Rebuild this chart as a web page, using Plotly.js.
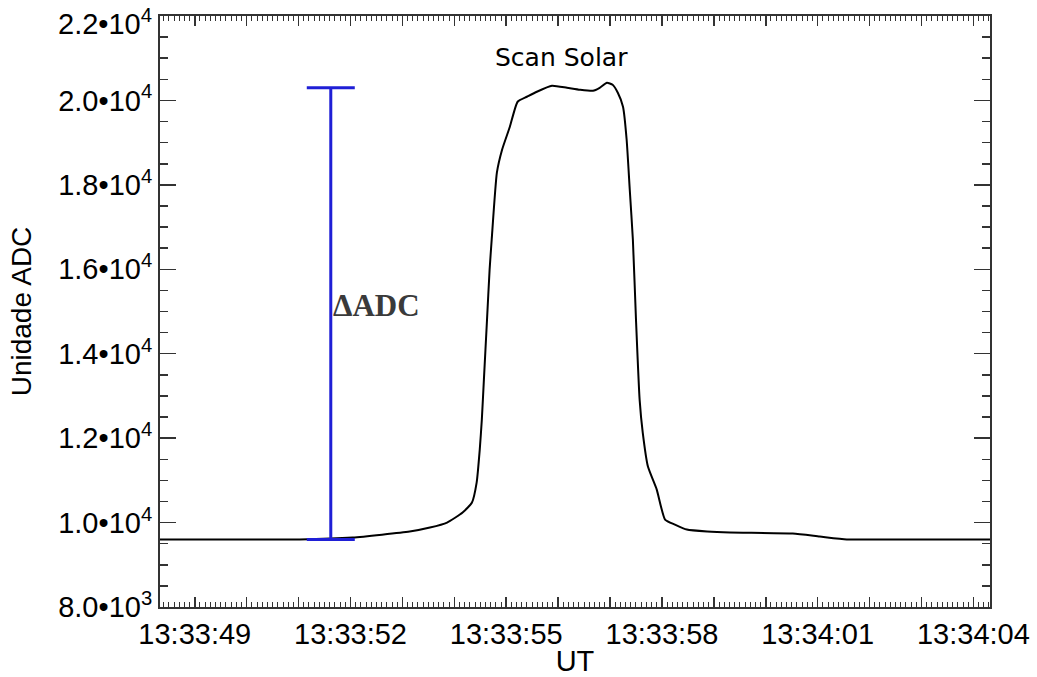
<!DOCTYPE html>
<html>
<head>
<meta charset="utf-8">
<script src="https://cdn.plot.ly/plotly-3.0.1.min.js"></script>
<style>
  html, body { margin: 0; padding: 0; background: #ffffff; }
  #chart { width: 1037px; height: 677px; }
</style>
</head>
<body>
<div id="chart"></div>
<script>
// Solar scan: ADC counts versus UT (seconds after 13:33:00)
const timeSec = [
  48.33, 49.5, 51.02, 52.04, 53.14, 53.53, 53.86, 54.16, 54.34, 54.43,
  54.49, 54.53, 54.57, 54.63, 54.68, 54.72, 54.82, 54.92, 55.07, 55.22,
  55.40, 55.59, 55.88, 56.17, 56.42, 56.67, 56.80, 56.94, 57.05, 57.15,
  57.25, 57.32, 57.38, 57.44, 57.50, 57.57, 57.63, 57.73, 57.90, 58.06,
  58.25, 58.48, 58.87, 59.31, 60.52, 61.04, 61.56, 62.20, 63.3, 64.32
];
const adcCounts = [
  9600, 9600, 9600, 9645, 9787, 9882, 10000, 10237, 10474, 10947,
  11729, 12439, 13386, 14807, 15991, 16701, 18288, 18832, 19377, 19969,
  20087, 20206, 20348, 20300, 20253, 20229, 20300, 20419, 20371, 20182,
  19850, 19069, 17885, 16701, 14807, 12913, 12131, 11326, 10781, 10071,
  9953, 9834, 9787, 9763, 9740, 9669, 9600, 9597, 9597, 9597
];

// Amplitude marker (ΔADC) between the quiet-sky baseline and the solar plateau
const deltaTime = 51.62;
const deltaLow = 9600;
const deltaHigh = 20300;

// Axis ticks
const xTickVals = [49, 50, 51, 52, 53, 54, 55, 56, 57, 58, 59, 60, 61, 62, 63, 64];
const xTickLabels = ['13:33:49', '', '', '13:33:52', '', '', '13:33:55', '', '',
                     '13:33:58', '', '', '13:34:01', '', '', '13:34:04'];
const yTickVals = [8000, 10000, 12000, 14000, 16000, 18000, 20000, 22000];
const yTickLabels = ['8.0•10<sup>3</sup>', '1.0•10<sup>4</sup>', '1.2•10<sup>4</sup>',
                     '1.4•10<sup>4</sup>', '1.6•10<sup>4</sup>', '1.8•10<sup>4</sup>',
                     '2.0•10<sup>4</sup>', '2.2•10<sup>4</sup>'];

const sansFont = 'Liberation Sans, Arial, Helvetica, sans-serif';
const axisColor = '#333333';
const yTop = yTickVals[yTickVals.length - 1];

// The label at the top of the y axis is nudged down so its exponent stays on the page
const yAxisText = yTickLabels.map((t, i) => (yTickVals[i] === yTop ? '' : t));
const topLabel = yTickLabels[yTickLabels.length - 1];

const traces = [
  {
    x: timeSec,
    y: adcCounts,
    type: 'scatter',
    mode: 'lines',
    line: { color: '#000000', width: 2, shape: 'spline', smoothing: 0.5 },
    hoverinfo: 'x+y'
  },
  {
    x: [deltaTime],
    y: [deltaLow],
    type: 'scatter',
    mode: 'markers',
    marker: { size: 1, color: 'rgba(0,0,0,0)' },
    error_y: {
      type: 'data',
      symmetric: false,
      array: [deltaHigh - deltaLow],
      arrayminus: [0],
      width: 24,
      thickness: 3,
      color: '#1f1fd6'
    },
    hoverinfo: 'skip'
  }
];

const layout = {
  width: 1037,
  height: 677,
  margin: { l: 160, r: 47, t: 16, b: 70 },
  paper_bgcolor: '#ffffff',
  plot_bgcolor: '#ffffff',
  showlegend: false,
  font: { family: sansFont, size: 29, color: '#000000' },
  xaxis: {
    range: [48.33, 64.32],
    tickmode: 'array',
    tickvals: xTickVals,
    ticktext: xTickLabels,
    ticks: 'inside',
    ticklen: 10,
    tickwidth: 1.5,
    tickcolor: axisColor,
    minor: { dtick: 0.1, tick0: 0, ticks: 'inside', ticklen: 5, tickwidth: 1, tickcolor: axisColor },
    showline: true,
    linecolor: axisColor,
    linewidth: 2,
    mirror: 'ticks',
    showgrid: false,
    zeroline: false,
    ticklabeloverflow: 'allow',
    tickfont: { family: sansFont, size: 29, color: '#000000' },
    title: { text: 'UT', font: { family: sansFont, size: 29, color: '#000000' }, standoff: 7 }
  },
  yaxis: {
    range: [8000, 22000],
    tickmode: 'array',
    tickvals: yTickVals,
    ticktext: yAxisText,
    ticks: 'inside',
    ticklen: 16,
    tickwidth: 1.5,
    tickcolor: axisColor,
    minor: { dtick: 500, tick0: 0, ticks: 'inside', ticklen: 8, tickwidth: 1.5, tickcolor: axisColor },
    showline: true,
    linecolor: axisColor,
    linewidth: 2,
    mirror: 'ticks',
    showgrid: false,
    zeroline: false,
    ticklabeloverflow: 'allow',
    tickfont: { family: sansFont, size: 29, color: '#000000' },
    title: { text: 'Unidade ADC', font: { family: sansFont, size: 28, color: '#000000' }, standoff: 18 }
  },
  annotations: [
    {
      x: 0, xref: 'paper', y: yTop, yref: 'y',
      text: topLabel,
      showarrow: false,
      xanchor: 'right', yanchor: 'middle',
      xshift: -6, yshift: -6,
      font: { family: sansFont, size: 29, color: '#000000' }
    },
    {
      x: 56.07, y: 21010, xref: 'x', yref: 'y',
      text: 'Scan Solar',
      showarrow: false,
      xanchor: 'center', yanchor: 'middle',
      font: { family: 'DejaVu Sans, Verdana, sans-serif', size: 25, color: '#000000' }
    },
    {
      x: deltaTime, y: 15138, xref: 'x', yref: 'y',
      text: '<b>ΔADC</b>',
      showarrow: false,
      xanchor: 'left', yanchor: 'middle',
      xshift: 0,
      font: { family: 'Liberation Serif, DejaVu Serif, serif', size: 31, color: '#3a3a3a' }
    }
  ]
};

Plotly.newPlot('chart', traces, layout, { displayModeBar: false, staticPlot: true });
</script>
</body>
</html>
